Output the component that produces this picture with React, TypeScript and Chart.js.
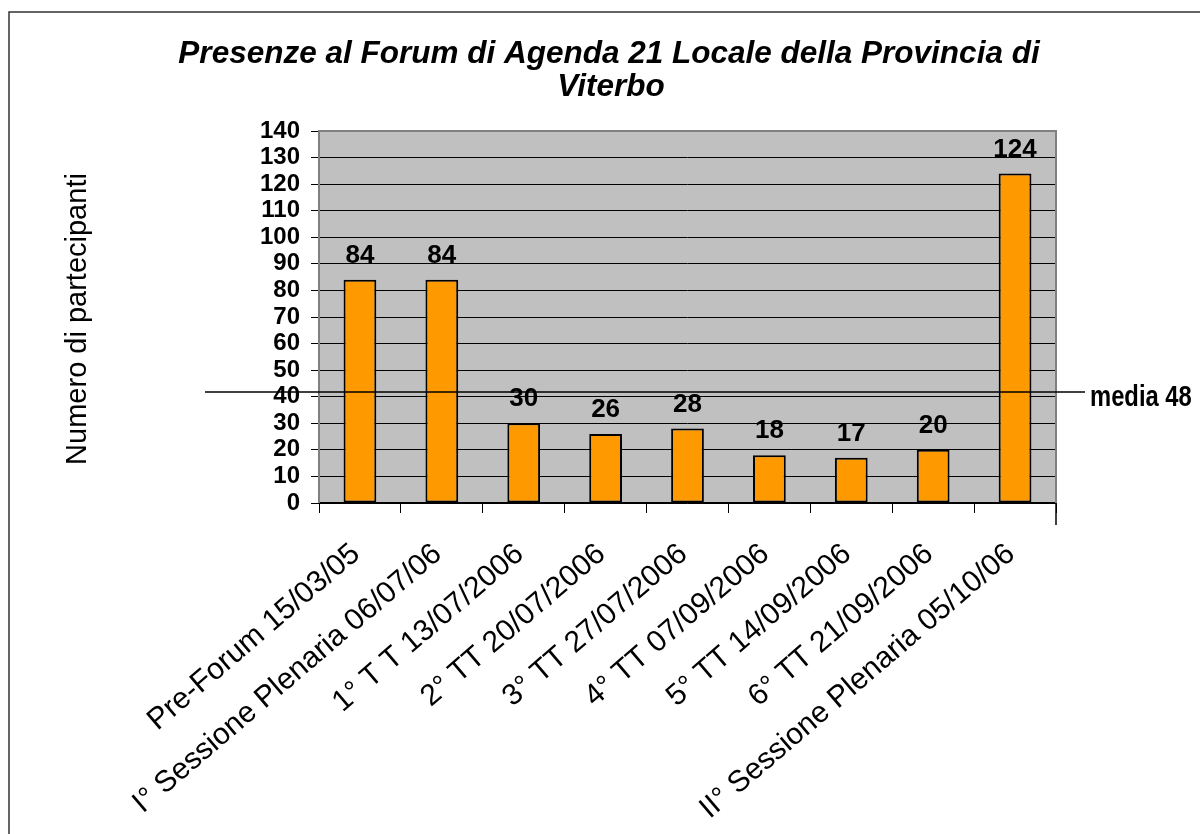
import React, { useEffect, useRef } from "react";
import { Chart, registerables } from "chart.js";

Chart.register(...registerables);

const categories = [
  "Pre-Forum 15/03/05",
  "I° Sessione Plenaria 06/07/06",
  "1° T T 13/07/2006",
  "2° TT 20/07/2006",
  "3° TT 27/07/2006",
  "4° TT 07/09/2006",
  "5° TT 14/09/2006",
  "6° TT 21/09/2006",
  "II° Sessione Plenaria 05/10/06",
];
const participants = [84, 84, 30, 26, 28, 18, 17, 20, 124];
const yMin = 0;
const yMax = 140;
const yStep = 10;
const titleLines = ["Presenze al Forum di Agenda 21 Locale della Provincia di", "Viterbo"];
const yAxisTitle = "Numero di partecipanti";
const mediaLabel = "media 48";
const mediaLineValue = 41.8;

const FONT = "'Liberation Sans', Arial, sans-serif";

const decorPlugin = {
  id: "decor",
  beforeDraw(chart: any) {
    const { ctx, chartArea } = chart;
    ctx.save();
    ctx.fillStyle = "#ffffff";
    ctx.fillRect(0, 0, chart.width, chart.height);
    // outer frame
    ctx.strokeStyle = "#333333";
    ctx.lineWidth = 1.5;
    ctx.beginPath();
    ctx.moveTo(9, chart.height);
    ctx.lineTo(9, 12);
    ctx.lineTo(chart.width, 12);
    ctx.stroke();
    // plot background
    ctx.fillStyle = "#C0C0C0";
    ctx.fillRect(chartArea.left, chartArea.top, chartArea.right - chartArea.left, chartArea.bottom - chartArea.top);
    ctx.restore();
  },
  beforeDatasetsDraw(chart: any) {
    const { ctx, chartArea } = chart;
    ctx.save();
    ctx.strokeStyle = "#808080";
    ctx.lineWidth = 2;
    ctx.beginPath();
    ctx.moveTo(chartArea.left, chartArea.bottom);
    ctx.lineTo(chartArea.left, chartArea.top);
    ctx.lineTo(chartArea.right, chartArea.top);
    ctx.lineTo(chartArea.right, chartArea.bottom);
    ctx.stroke();
    // longer tick at right end of category axis
    ctx.strokeStyle = "#000";
    ctx.lineWidth = 1.5;
    ctx.beginPath();
    ctx.moveTo(chartArea.right, chartArea.bottom);
    ctx.lineTo(chartArea.right, chartArea.bottom + 22);
    ctx.stroke();
    ctx.restore();
  },
  afterDatasetsDraw(chart: any) {
    const { ctx, chartArea } = chart;
    const xScale = chart.scales.x;
    const yScale = chart.scales.y;
    const meta = chart.getDatasetMeta(0);
    ctx.save();

    // value labels
    ctx.fillStyle = "#000";
    ctx.font = `bold 26px ${FONT}`;
    ctx.textAlign = "center";
    ctx.textBaseline = "alphabetic";
    meta.data.forEach((bar: any, i: number) => {
      ctx.fillText(String(participants[i]), bar.x, bar.y - 17);
    });

    // media line
    const my = yScale.getPixelForValue(mediaLineValue);
    ctx.strokeStyle = "#000";
    ctx.lineWidth = 1.5;
    ctx.beginPath();
    ctx.moveTo(205, my);
    ctx.lineTo(chartArea.right + 29, my);
    ctx.stroke();

    ctx.save();
    ctx.translate(chartArea.right + 34, my + 14);
    ctx.scale(0.82, 1);
    ctx.font = `bold 29px 'Liberation Sans Narrow', ${FONT}`;
    ctx.textAlign = "left";
    ctx.textBaseline = "alphabetic";
    ctx.fillText(mediaLabel, 0, 0);
    ctx.restore();

    // x labels
    ctx.font = `30px ${FONT}`;
    ctx.textAlign = "right";
    ctx.textBaseline = "middle";
    const ang = (-40.6 * Math.PI) / 180;
    categories.forEach((label, i) => {
      const cx = xScale.getPixelForValue(i);
      ctx.save();
      ctx.translate(cx - 4, chartArea.bottom + 47);
      ctx.rotate(ang);
      ctx.fillText(label, 0, 0);
      ctx.restore();
    });

    // title
    ctx.font = `italic bold 31.5px ${FONT}`;
    ctx.textAlign = "center";
    ctx.textBaseline = "alphabetic";
    ctx.fillText(titleLines[0], 609, 63);
    ctx.fillText(titleLines[1], 611, 96);

    // y axis title
    ctx.save();
    ctx.translate(78, 319);
    ctx.rotate(-Math.PI / 2);
    ctx.font = `29px ${FONT}`;
    ctx.textAlign = "center";
    ctx.textBaseline = "middle";
    ctx.fillText(yAxisTitle, 0, 0);
    ctx.restore();

    ctx.restore();
  },
};

export default function App() {
  const canvasRef = useRef<HTMLCanvasElement | null>(null);

  useEffect(() => {
    document.body.style.margin = "0";
    const canvas = canvasRef.current;
    if (!canvas) return;
    const chart = new Chart(canvas, {
      type: "bar",
      data: {
        labels: categories,
        datasets: [
          {
            data: participants,
            backgroundColor: "#FF9900",
            borderColor: "#000000",
            borderWidth: 2,
            borderSkipped: false,
            barPercentage: 0.4,
            categoryPercentage: 1,
          },
        ],
      },
      options: {
        responsive: false,
        animation: false,
        devicePixelRatio: 1,
        layout: { padding: { top: 131, right: 144, left: 0, bottom: 0 } },
        plugins: {
          legend: { display: false },
          title: { display: false },
          tooltip: { enabled: false },
        },
        scales: {
          x: {
            offset: true,
            grid: {
              display: true,
              drawOnChartArea: false,
              drawTicks: true,
              tickLength: 10,
              color: "#000000",
              offset: true,
            },
            border: { display: true, color: "#000000", width: 1.5 },
            ticks: { color: "rgba(0,0,0,0)", maxRotation: 0, minRotation: 0, autoSkip: false, font: { size: 10 } },
            afterFit: (scale: any) => {
              scale.height = 331;
            },
          },
          y: {
            min: yMin,
            max: yMax,
            grid: { color: "#000000", lineWidth: 1, tickLength: 8, drawTicks: true },
            border: { display: false },
            ticks: {
              stepSize: yStep,
              autoSkip: false,
              color: "#000000",
              padding: 11,
              font: { family: FONT, size: 24, weight: "bold" },
            },
            afterFit: (scale: any) => {
              scale.width = 319;
            },
          },
        },
      },
      plugins: [decorPlugin],
    });
    return () => chart.destroy();
  }, []);

  return (
    <div style={{ position: "absolute", left: 0, top: 0, width: 1200, height: 834 }}>
      <canvas ref={canvasRef} width={1200} height={834} style={{ display: "block" }} />
    </div>
  );
}
